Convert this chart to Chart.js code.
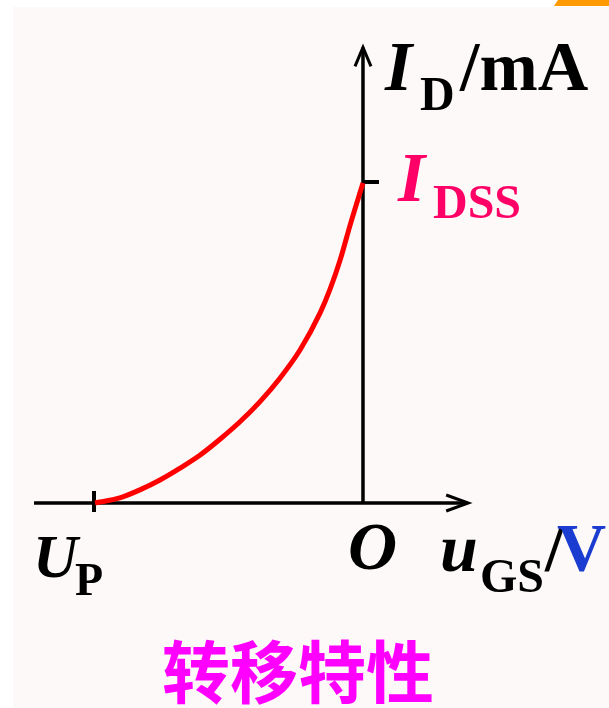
<!DOCTYPE html>
<html>
<head>
<meta charset="utf-8">
<title>转移特性</title>
<script src="https://cdn.jsdelivr.net/npm/chart.js@4.4.1/dist/chart.umd.min.js"></script>
<style>
  html, body { margin: 0; padding: 0; background: #ffffff; }
  #wrap { width: 609px; height: 708px; }
</style>
</head>
<body>
<div id="wrap"><canvas id="transfer" width="609" height="708"></canvas></div>
<script>
// transfer characteristic of a JFET: iD against uGS, from UP up to IDSS at uGS = 0
const uGS = [-4, -3.63, -3.33, -3.03, -2.73, -2.43, -2.13, -1.84, -1.54, -1.24, -0.94, -0.64, -0.49, -0.34, -0.19, 0];
const iD  = [0, 0.016, 0.041, 0.072, 0.109, 0.15, 0.2, 0.253, 0.316, 0.39, 0.478, 0.594, 0.669, 0.76, 0.87, 1];

// marked values on the axes
const UP = -4;
const IDSS = 1;

// visible extent of the axes (in axis units)
const X_AXIS_FROM = -4.91;
const X_AXIS_TO = 1.57;
const Y_AXIS_TO = 1.43;

const serif = '"Liberation Serif", "Times New Roman", serif';

const axesPlugin = {
  id: 'axesPlugin',
  beforeDraw(chart) {
    const c = chart.ctx;
    const w = chart.width, h = chart.height;
    c.save();
    c.fillStyle = '#ffffff';
    c.fillRect(0, 0, w, h);
    c.fillStyle = '#fdf9f8';
    c.fillRect(13, 7, w - 13, h - 7);
    // orange corner of the slide
    c.fillStyle = '#ff9900';
    c.beginPath();
    c.moveTo(558, 0); c.lineTo(w, 0); c.lineTo(w, 6); c.lineTo(554, 6);
    c.closePath(); c.fill();
    c.restore();
  },
  beforeDatasetsDraw(chart) {
    const c = chart.ctx;
    const xs = chart.scales.x, ys = chart.scales.y;
    const x0 = xs.getPixelForValue(0);
    const y0 = ys.getPixelForValue(0);
    const xl = xs.getPixelForValue(X_AXIS_FROM);
    const xr = xs.getPixelForValue(X_AXIS_TO);
    const yt = ys.getPixelForValue(Y_AXIS_TO);
    c.save();
    c.strokeStyle = '#000';
    c.lineWidth = 3.5;
    c.lineCap = 'butt';
    // horizontal axis
    c.beginPath(); c.moveTo(xl, y0); c.lineTo(xr - 2, y0); c.stroke();
    // vertical axis
    c.beginPath(); c.moveTo(x0, y0 + 1); c.lineTo(x0, yt + 2); c.stroke();
    // arrow heads
    c.lineWidth = 3;
    c.beginPath();
    c.moveTo(xr - 22, y0 - 8); c.lineTo(xr, y0); c.lineTo(xr - 22, y0 + 8);
    c.stroke();
    c.beginPath();
    c.moveTo(x0 - 8, yt + 21); c.lineTo(x0, yt + 2); c.lineTo(x0 + 8, yt + 21);
    c.stroke();
    // IDSS tick
    const yi = ys.getPixelForValue(IDSS) - 1;
    c.lineWidth = 4;
    c.beginPath(); c.moveTo(x0, yi); c.lineTo(x0 + 16, yi); c.stroke();
    // UP tick
    const xu = xs.getPixelForValue(UP) - 1;
    c.beginPath(); c.moveTo(xu, y0 - 12); c.lineTo(xu, y0 + 9); c.stroke();
    c.restore();
  },
  afterDraw(chart) {
    const c = chart.ctx;
    const xs = chart.scales.x, ys = chart.scales.y;
    const x0 = xs.getPixelForValue(0);
    const y0 = ys.getPixelForValue(0);
    const yi = ys.getPixelForValue(IDSS);
    const xu = xs.getPixelForValue(UP);
    c.save();
    c.textBaseline = 'alphabetic';
    c.textAlign = 'left';

    // I_D / mA
    c.fillStyle = '#000';
    c.font = 'italic bold 70px ' + serif;
    c.fillText('I', x0 + 22, 90);
    c.font = 'bold 48px ' + serif;
    c.fillText('D', x0 + 57, 110);
    c.font = 'bold 70px ' + serif;
    c.fillText('/mA', x0 + 97, 90);

    // I_DSS
    c.fillStyle = '#ff0066';
    c.font = 'italic bold 70px ' + serif;
    c.fillText('I', x0 + 35, yi + 18);
    c.font = 'bold 48px ' + serif;
    c.fillText('DSS', x0 + 70, yi + 35);

    // U_P
    c.fillStyle = '#000';
    c.font = 'italic bold 62px ' + serif;
    c.fillText('U', xu - 62, y0 + 74);
    c.font = 'bold 46px ' + serif;
    c.fillText('P', xu - 20, y0 + 92);

    // origin
    c.font = 'italic bold 68px ' + serif;
    c.fillText('O', x0 - 15, y0 + 66);

    // u_GS / V
    c.font = 'italic bold 68px ' + serif;
    c.fillText('u', x0 + 77, y0 + 68);
    c.font = 'bold 48px ' + serif;
    c.fillText('GS', x0 + 117, y0 + 89);
    c.font = 'bold 68px ' + serif;
    c.fillText('/', x0 + 182, y0 + 67);
    c.fillStyle = '#1a3cd0';
    c.fillText('V', x0 + 194, y0 + 67);

    // caption
    c.fillStyle = '#ff00ff';
    c.font = 'bold 68px "Noto Sans CJK SC", sans-serif';
    c.textAlign = 'center';
    c.textBaseline = 'middle';
    c.fillText('转移特性', 298, 672);
    c.restore();
  }
};

new Chart(document.getElementById('transfer'), {
  type: 'scatter',
  data: {
    datasets: [{
      label: 'iD',
      data: uGS.map((u, i) => ({ x: u, y: iD[i] })),
      showLine: true,
      borderColor: '#ff0000',
      borderWidth: 5,
      pointRadius: 0,
      cubicInterpolationMode: 'monotone',
      fill: false
    }]
  },
  options: {
    responsive: false,
    animation: false,
    devicePixelRatio: 1,
    layout: { padding: 0 },
    plugins: { legend: { display: false }, tooltip: { enabled: false } },
    scales: {
      x: { type: 'linear', display: false, min: -5.418, max: 3.672 },
      y: { type: 'linear', display: false, min: -0.6406, max: 1.5719 }
    }
  },
  plugins: [axesPlugin]
});
</script>
</body>
</html>
